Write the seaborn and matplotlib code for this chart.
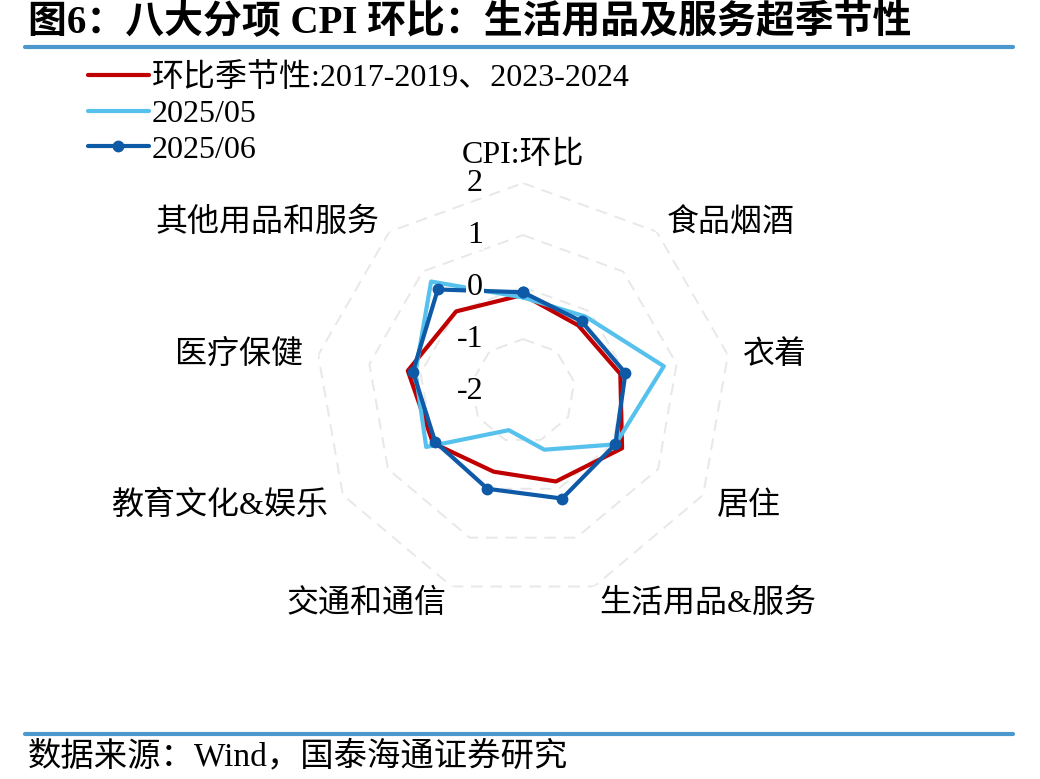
import numpy as np
import pandas as pd
import seaborn as sns
import matplotlib
matplotlib.use('Agg')
import matplotlib.pyplot as plt
from matplotlib.lines import Line2D

# data (CPI MoM, %)
categories = ['CPI:环比', '食品烟酒', '衣着', '居住', '生活用品&服务',
              '交通和通信', '教育文化&娱乐', '医疗保健', '其他用品和服务']
seasonal = [-0.15, -0.35, -0.1, 0.2, -0.15, -0.35, 0.0, 0.25, 0.0]
may_2025 = [-0.2, -0.13, 0.75, 0.05, -0.8, -1.2, 0.15, 0.1, 0.75]
jun_2025 = [-0.1, -0.25, 0.0, 0.05, 0.2, 0.0, -0.05, 0.15, 0.55]
series_names = ['环比季节性:2017-2019、2023-2024', '2025/05', '2025/06']
radial_ticks = [2, 1, 0, -1, -2]
colors = ['#c00000', '#56c1ec', '#0e5aa7']

sns.set_style('white')
plt.rcParams['font.family'] = ['Liberation Serif', 'Noto Sans CJK SC']
plt.rcParams['axes.unicode_minus'] = False
plt.rcParams['text.color'] = 'black'

n = len(categories)
theta = np.arange(n) * 2 * np.pi / n
theta_closed = np.append(theta, 2 * np.pi)

rows = []
for name, vals in zip(series_names, [seasonal, may_2025, jun_2025]):
    for t, v in zip(theta_closed, vals + vals[:1]):
        rows.append({'series': name, 'theta': t, 'value': v})
df = pd.DataFrame(rows)

fig = plt.figure(figsize=(10.4, 7.79), dpi=100)
ax = fig.add_axes([0.3029, 0.231, 0.4, 0.534], projection='polar')
ax.set_theta_zero_location('N')
ax.set_theta_direction(-1)
ax.grid(False)
ax.spines['polar'].set_visible(False)
ax.patch.set_alpha(0)

# polygon gridlines (dashed, light grey)
for lvl in [-1, 0, 1, 2]:
    ax.plot(theta_closed, [lvl] * (n + 1), color='#e8e8e8', lw=1.4,
            ls=(0, (6, 4)), zorder=1)

for name, col in zip(series_names, colors):
    sub = df[df['series'] == name]
    is_jun = name == '2025/06'
    sns.lineplot(data=sub, x='theta', y='value', ax=ax, color=col, lw=3,
                 sort=False, estimator=None, label=name,
                 marker='o' if is_jun else None, markersize=8.5,
                 markeredgewidth=0, zorder=3)

ax.set_ylim(-2, 2)
ax.set_xticks([])
ax.set_yticks([])
ax.set_xlabel('')
ax.set_ylabel('')
handles, labels = ax.get_legend_handles_labels()
ax.get_legend().remove()

# category labels around the chart
R = 2.3
for t, lab in zip(theta, categories):
    s = np.sin(t)
    ha = 'left' if s > 0.1 else ('right' if s < -0.1 else 'center')
    va = 'bottom' if abs(s) < 0.1 else 'center'
    ax.annotate(lab, xy=(t, R), xytext=(0, -3), textcoords='offset pixels',
                ha=ha, va=va, fontsize=23, annotation_clip=False)

# radial tick labels
for v in radial_ticks:
    ax.annotate(str(v), xy=(0, v), xytext=(-40, 0), textcoords='offset pixels',
                ha='right', va='center', fontsize=23, zorder=10,
                bbox=dict(fc='white', ec='none', pad=0.5))

fig.legend(handles, labels, loc='upper left',
           bbox_to_anchor=(88 / 1040, 1 - 63 / 779), frameon=False,
           fontsize=23, handlelength=1.9, handletextpad=0.1,
           labelspacing=0.2, borderpad=0, borderaxespad=0)

fig.text(28 / 1040, 1 - 23 / 779, '图6：八大分项 CPI 环比：生活用品及服务超季节性',
         fontsize=28, fontweight='bold', va='center', ha='left')
fig.add_artist(Line2D([25 / 1040, 1013 / 1040], [1 - 47 / 779] * 2,
                      color='#4a98cd', lw=3))
fig.add_artist(Line2D([25 / 1040, 1013 / 1040], [1 - 734 / 779] * 2,
                      color='#4a98cd', lw=3))
fig.text(28 / 1040, 1 - 756 / 779, '数据来源：Wind，国泰海通证券研究',
         fontsize=24, va='center', ha='left')

fig.savefig('out.png', dpi=100)
